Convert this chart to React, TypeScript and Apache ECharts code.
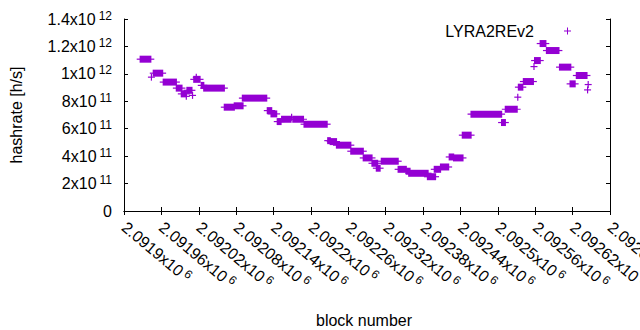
import React, { useEffect, useRef } from "react";
import * as echarts from "echarts";

const seriesName = "LYRA2REv2";
const xTitle = "block number";
const yTitle = "hashrate [h/s]";

const xMin = 2091900;
const xMax = 2092680;
const xStep = 60;
const yMin = 0;
const yMax = 1.4e12;
const yStep = 2e11;

// Runs of equal hashrate (first block, last block, hashrate)
const blockStart = [
  2091926, 2091944, 2091947, 2091963, 2091984, 2091992, 2092000, 2092001, 2092010, 2092012,
  2092016, 2092024, 2092028, 2092061, 2092077, 2092090, 2092130, 2092136, 2092146, 2092153,
  2092169, 2092171, 2092189, 2092227, 2092231, 2092241, 2092264, 2092284, 2092298, 2092305,
  2092313, 2092340, 2092353, 2092357, 2092387, 2092398, 2092408, 2092422, 2092429, 2092443,
  2092457, 2092506, 2092512, 2092532, 2092533, 2092541, 2092558, 2092559, 2092568, 2092578,
  2092599, 2092616, 2092626, 2092645, 2092644,
];
const blockEnd = [
  2091943, 2091944, 2091962, 2091984, 2091993, 2092000, 2092000, 2092009, 2092010, 2092022,
  2092016, 2092028, 2092061, 2092077, 2092091, 2092129, 2092137, 2092145, 2092152, 2092168,
  2092169, 2092188, 2092226, 2092231, 2092241, 2092264, 2092284, 2092298, 2092307, 2092311,
  2092340, 2092353, 2092359, 2092388, 2092400, 2092408, 2092421, 2092429, 2092444, 2092457,
  2092506, 2092512, 2092531, 2092532, 2092540, 2092557, 2092558, 2092568, 2092577, 2092598,
  2092617, 2092624, 2092643, 2092645, 2092644,
];
const hashrate = [
  1.107e12, 0.976e12, 1.005e12, 0.94e12, 0.896e12, 0.854e12, 0.836e12, 0.88e12, 0.843e12, 0.96e12,
  0.975e12, 0.916e12, 0.896e12, 0.757e12, 0.767e12, 0.823e12, 0.732e12, 0.708e12, 0.652e12, 0.669e12,
  0.683e12, 0.669e12, 0.633e12, 0.513e12, 0.506e12, 0.48e12, 0.436e12, 0.387e12, 0.348e12, 0.312e12,
  0.363e12, 0.304e12, 0.29e12, 0.275e12, 0.25e12, 0.304e12, 0.321e12, 0.394e12, 0.387e12, 0.553e12,
  0.706e12, 0.645e12, 0.742e12, 0.83e12, 0.903e12, 0.944e12, 1.053e12, 1.097e12, 1.221e12, 1.17e12,
  1.049e12, 0.927e12, 0.988e12, 0.922e12, 0.883e12,
];

const COLOR = "#9400D3";
const FONT = "Liberation Sans";

const richY = {
  m: { fontSize: 16, fontFamily: FONT, color: "#000" },
  s: { fontSize: 12, fontFamily: FONT, color: "#000", padding: [0, 0, 7, 3] },
};
const richX = {
  m: { fontSize: 16, fontFamily: FONT, color: "#000" },
  s: { fontSize: 12, fontFamily: FONT, color: "#000", padding: [0, 0, 7, 3] },
};

function fmtY(v: number): string {
  if (v === 0) return "{m|0}";
  const e = Math.floor(Math.log10(v) + 1e-9);
  const m = +(v / Math.pow(10, e)).toFixed(2);
  return `{m|${m}x10}{s|${e}}`;
}

function fmtX(v: number): string {
  const m = +(v / 1e6).toFixed(5);
  return `{m|${m}x10}{s|6}`;
}

export default function App() {
  const ref = useRef<HTMLDivElement>(null);
  useEffect(() => {
    if (!ref.current) return;
    const chart = echarts.init(ref.current, undefined, { renderer: "svg" });
    const data = blockStart.map((b, i) => [b, blockEnd[i], hashrate[i]]);
    const axisLine = { show: true, lineStyle: { color: "#000", width: 1 } };
    const axisTick = { show: true, inside: true, length: 4, lineStyle: { color: "#000", width: 1 } };
    chart.setOption({
      animation: false,
      backgroundColor: "#fff",
      grid: { left: 124, right: 30, top: 19, bottom: 119, containLabel: false, outerBoundsMode: "none" },
      legend: {
        data: [{ name: seriesName, icon: "path://M3,0h1v3h3v1h-3v3h-1v-3h-3v-1h3z" }],
        right: 69,
        top: 23,
        align: "right",
        itemWidth: 7,
        itemHeight: 7,
        padding: 0,
        textStyle: { fontSize: 16, fontFamily: FONT, color: "#000", padding: [0, 25, 0, 0] },
      },
      xAxis: [
        {
          type: "value",
          position: "bottom",
          min: xMin,
          max: xMax,
          interval: xStep,
          name: xTitle,
          nameLocation: "middle",
          nameGap: 101,
          nameTextStyle: { fontSize: 16, fontFamily: FONT, color: "#000", padding: [0, 6, 0, 0] },
          axisLine,
          axisTick,
          splitLine: { show: false },
          axisLabel: {
            rotate: -40,
            margin: 14,
            formatter: fmtX,
            rich: richX,
            showMinLabel: true,
            showMaxLabel: true,
          },
        },
        {
          type: "value",
          position: "top",
          min: xMin,
          max: xMax,
          interval: xStep,
          axisLine,
          axisTick,
          splitLine: { show: false },
          axisLabel: { show: false },
        },
      ],
      yAxis: [
        {
          type: "value",
          position: "left",
          min: yMin,
          max: yMax,
          interval: yStep,
          name: yTitle,
          nameLocation: "middle",
          nameGap: 100,
          nameTextStyle: { fontSize: 16, fontFamily: FONT, color: "#000" },
          axisLine,
          axisTick,
          splitLine: { show: false },
          axisLabel: { margin: 12, formatter: fmtY, rich: richY },
        },
        {
          type: "value",
          position: "right",
          min: yMin,
          max: yMax,
          interval: yStep,
          axisLine,
          axisTick,
          splitLine: { show: false },
          axisLabel: { show: false },
        },
      ],
      series: [
        {
          name: seriesName,
          type: "custom",
          xAxisIndex: 0,
          yAxisIndex: 0,
          itemStyle: { color: COLOR },
          encode: { x: [0, 1], y: 2 },
          data,
          renderItem: (params: any, api: any) => {
            const b0 = api.value(0);
            const b1 = api.value(1);
            const v = api.value(2);
            const p0 = api.coord([b0, v]);
            const p1 = api.coord([b1, v]);
            const y = p0[1];
            return {
              type: "group",
              children: [
                {
                  type: "rect",
                  shape: { x: p0[0] - 0.6, y: y - 3.5, width: p1[0] - p0[0] + 1.2, height: 7 },
                  style: { fill: COLOR },
                },
                {
                  type: "rect",
                  shape: { x: p0[0] - 3.5, y: y - 0.6, width: p1[0] - p0[0] + 7, height: 1.2 },
                  style: { fill: COLOR },
                },
              ],
            };
          },
        },
      ],
    });
    return () => chart.dispose();
  }, []);
  return (
    <div
      ref={ref}
      style={{ position: "fixed", left: 0, top: 0, width: 640, height: 330 }}
    />
  );
}
